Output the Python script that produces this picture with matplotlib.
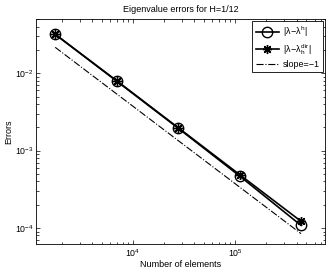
"""
Eigenvalue errors for H=1/12 - log-log convergence plot
"""

import numpy as np
import matplotlib
matplotlib.use('Agg')
import matplotlib.pyplot as plt

plt.rcParams['font.family'] = ['Liberation Sans', 'DejaVu Sans']
plt.rcParams['mathtext.fontset'] = 'custom'
plt.rcParams['mathtext.rm'] = 'Liberation Sans'
plt.rcParams['mathtext.it'] = 'Liberation Sans'
plt.rcParams['mathtext.bf'] = 'Liberation Sans:bold'

# Data
n_elements = [1728, 6912, 27648, 110592, 442368]
err_h = [0.0318, 0.0079, 0.00195, 4.7e-4, 1.08e-4]
err_dir = [0.0318, 0.0080, 0.00198, 4.9e-4, 1.22e-4]
slope_ref = [0.0216, 0.0054, 0.00135, 3.38e-4, 8.45e-5]

fig = plt.figure(figsize=(3.27, 2.73), dpi=100)
ax = fig.add_axes([0.110, 0.106, 0.884, 0.824])

ax.loglog(n_elements, err_h, '-', color='k', linewidth=1.2, marker='o',
          markersize=7.5, markerfacecolor='none', markeredgewidth=1.0,
          label=r'$|\lambda\!-\!\lambda^{h}|$')
ax.loglog(n_elements, err_dir, '-', color='k', linewidth=1.2, marker=(8, 2, 0),
          markersize=6.5, markeredgewidth=1.0,
          label=r'$|\lambda\!-\!\lambda_h^{dir}|$')
ax.loglog(n_elements, slope_ref, '-.', color='k', linewidth=0.8,
          label='slope=\u22121')

ax.set_xlim(1.12e3, 7.6e5)
ax.set_ylim(6.2e-5, 5.0e-2)

ax.set_title('Eigenvalue errors for H=1/12', fontsize=6.5, pad=5)
ax.set_xlabel('Number of elements', fontsize=6.5, labelpad=1)
ax.set_ylabel('Errors', fontsize=6.5, labelpad=1)

ax.tick_params(which='both', direction='in', top=True, right=True,
               labelsize=6.3, width=0.5, pad=2)
ax.tick_params(which='major', length=3)
ax.tick_params(which='minor', length=1.8)
for s in ax.spines.values():
    s.set_linewidth(0.6)

leg = ax.legend(loc='upper right', fontsize=6.5, fancybox=False, framealpha=1,
                edgecolor='k', handlelength=2.6, borderpad=0.35,
                labelspacing=0.35, handletextpad=0.4, borderaxespad=0.25)
leg.get_frame().set_linewidth(0.6)

plt.savefig('out.png', dpi=100)
